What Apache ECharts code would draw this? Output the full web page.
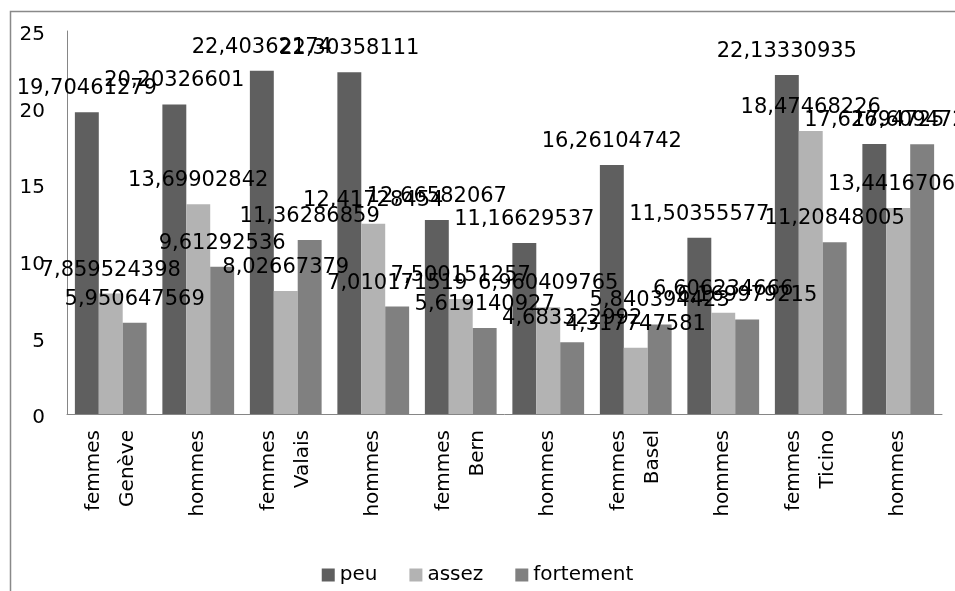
<!DOCTYPE html>
<html>
<head>
<meta charset="utf-8">
<script src="https://cdn.jsdelivr.net/npm/echarts@6/dist/echarts.min.js"></script>
<style>
  html, body { margin: 0; padding: 0; background: #ffffff; }
  #chart { width: 955px; height: 591px; }
</style>
</head>
<body>
<div id="chart"></div>
<script>
// Canton / sex groups on the category axis
const categories = [
  'femmes\nGenève', 'hommes',
  'femmes\nValais', 'hommes',
  'femmes\nBern', 'hommes',
  'femmes\nBasel', 'hommes',
  'femmes\nTicino', 'hommes'
];

// Shares per answer level
const peu = [19.70461279, 20.20326601, 22.40362174, 22.30358111, 12.66582067,
             11.16629537, 16.26104742, 11.50355577, 22.13330935, 17.62694725];
const assez = [7.859524398, 13.69902842, 8.02667379, 12.41728454, 7.500151257,
               6.960409765, 4.317747581, 6.606234666, 18.47468226, 13.44167065];
const fortement = [5.950647569, 9.61292536, 11.36286859, 7.010171519, 5.619140927,
                   4.683322992, 5.840394423, 6.169979215, 11.20848005, 17.60947256];

const yTicks = { min: 0, max: 25, interval: 5 };

const FONT = 'DejaVu Sans';

function fmt(v) {
  return String(v).replace('.', ',');
}

function makeSeries(name, data, color) {
  return {
    name: name,
    type: 'bar',
    data: data,
    barGap: '0%',
    barCategoryGap: '18%',
    itemStyle: { color: color },
    label: {
      show: true,
      position: 'top',
      distance: 13,
      color: '#000000',
      fontFamily: FONT,
      fontSize: 21,
      formatter: p => fmt(p.value)
    }
  };
}

const chart = echarts.init(document.getElementById('chart'), null, { renderer: 'canvas' });

chart.setOption({
  animation: false,
  backgroundColor: '#ffffff',
  graphic: [{
    type: 'rect',
    shape: { x: 10.5, y: 11.5, width: 980, height: 620 },
    style: { fill: 'none', stroke: '#898989', lineWidth: 1.5 },
    silent: true,
    z: -10
  }],
  grid: { left: 67, right: 13, top: 31, bottom: 177, containLabel: false },
  legend: {
    top: 560,
    left: 'center',
    icon: 'rect',
    itemWidth: 13,
    itemHeight: 13,
    itemGap: 32,
    textStyle: { fontFamily: FONT, fontSize: 20, color: '#000000' },
    data: ['peu', 'assez', 'fortement']
  },
  xAxis: {
    type: 'category',
    data: categories,
    axisLine: { show: true, lineStyle: { color: '#868686', width: 1 } },
    axisTick: { show: false },
    axisLabel: {
      interval: 0,
      rotate: 90,
      margin: 16,
      lineHeight: 34,
      fontFamily: FONT,
      fontSize: 20,
      color: '#000000'
    },
    splitLine: { show: false }
  },
  yAxis: {
    type: 'value',
    min: yTicks.min,
    max: yTicks.max,
    interval: yTicks.interval,
    axisLine: { show: true, lineStyle: { color: '#868686', width: 1 } },
    axisTick: { show: false },
    axisLabel: {
      margin: 22,
      formatter: '{t|{value}}',
      rich: {
        t: {
          padding: [8, 0, 0, 0],
          fontFamily: FONT,
          fontSize: 20,
          color: '#000000'
        }
      }
    },
    splitLine: { show: false }
  },
  series: [
    makeSeries('peu', peu, '#5f5f5f'),
    makeSeries('assez', assez, '#b3b3b3'),
    makeSeries('fortement', fortement, '#808080')
  ]
});
</script>
</body>
</html>
